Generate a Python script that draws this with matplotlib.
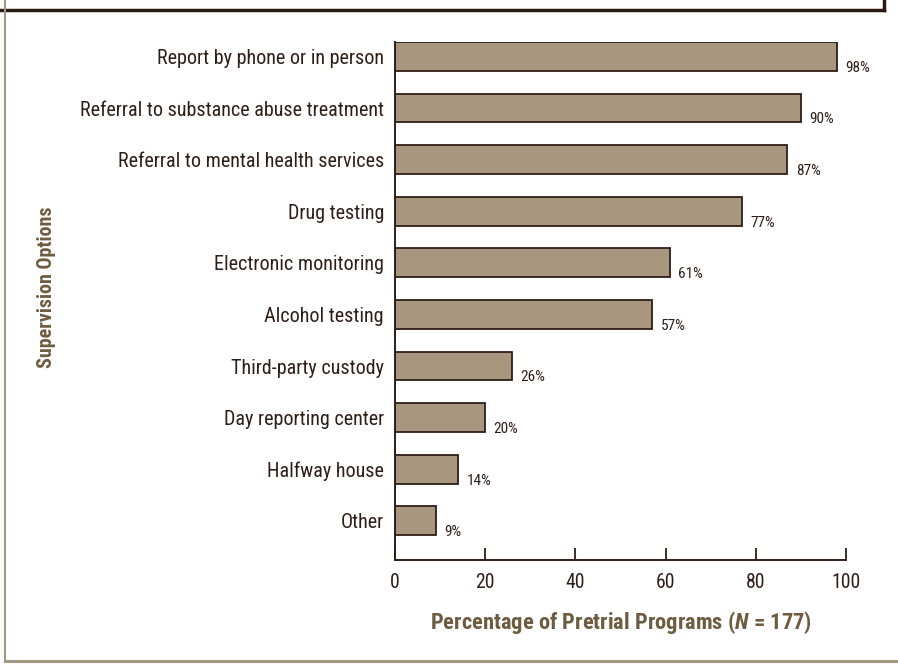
import matplotlib
matplotlib.use("Agg")
import matplotlib.pyplot as plt
from matplotlib import font_manager as fm
from matplotlib.lines import Line2D

categories = ["Report by phone or in person", "Referral to substance abuse treatment",
              "Referral to mental health services", "Drug testing", "Electronic monitoring",
              "Alcohol testing", "Third-party custody", "Day reporting center",
              "Halfway house", "Other"]
values = [98, 90, 87, 77, 61, 57, 26, 20, 14, 9]
xticks = [0, 20, 40, 60, 80, 100]
xlabel = "Percentage of Pretrial Programs ($\\bfit{N}$ = 177)"
ylabel = "Supervision Options"

names = {f.name for f in fm.fontManager.ttflist}
fam = "DejaVu Sans"
for cand in ["Roboto Condensed", "Archivo Narrow", "PT Sans Narrow", "Liberation Sans Narrow"]:
    if cand in names:
        fam = cand
        break
plt.rcParams["font.family"] = [fam, "DejaVu Sans"]
plt.rcParams["mathtext.fontset"] = "custom"
plt.rcParams["mathtext.bfit"] = f"{fam}:bold:italic"
plt.rcParams["mathtext.bf"] = f"{fam}:bold"
plt.rcParams["mathtext.rm"] = f"{fam}"

dark = "#2e1e18"
barc = "#a8967e"
titlec = "#6e5c40"
framec = "#a39683"

fig = plt.figure(figsize=(8.98, 6.66), dpi=100)
ax = fig.add_axes([395/898, 1-560/666, (846-395)/898, (560-42)/666])

ypos = list(range(len(categories)))
ax.barh(ypos, values, height=0.56, color=barc, edgecolor=dark, linewidth=1.3)
for y, v in zip(ypos, values):
    ax.annotate(f"{v}%", (v, y + 0.22), xytext=(6, 0), textcoords="offset points",
                va="center", ha="left", fontsize=11, color=dark)

ax.set_xlim(0, 100)
ax.set_ylim(9.76, -0.28)
ax.set_yticks(ypos)
ax.set_yticklabels(categories, fontsize=14.5, color=dark)
ax.set_xticks(xticks)
ax.set_xticklabels([str(t) for t in xticks], fontsize=14.2, color=dark)
ax.tick_params(axis="y", length=0, pad=8)
ax.tick_params(axis="x", direction="in", length=8.5, width=1.3, color=dark, pad=9)
for s in ["top", "right"]:
    ax.spines[s].set_visible(False)
for s in ["left", "bottom"]:
    ax.spines[s].set_color(dark)
    ax.spines[s].set_linewidth(1.4)

fig.text(620.5/898, 1-622/666, xlabel, fontsize=16.2, fontweight="bold",
         color=titlec, ha="center", va="center")
fig.text(47/898, 1-287.5/666, ylabel, fontsize=14.4, fontweight="bold", color=titlec,
         rotation=90, ha="center", va="center")

# frame decorations
fig.add_artist(Line2D([0, 884/898], [1-10/666, 1-10/666], color="#2a1a12", lw=2.5))
fig.add_artist(Line2D([884/898, 884/898], [1, 1-10/666], color="#2a1a12", lw=2.5))
fig.add_artist(Line2D([5/898, 5/898], [1, 1-661/666], color=framec, lw=1.5))
fig.add_artist(Line2D([5/898, 1], [1-661/666, 1-661/666], color=framec, lw=2.2))

fig.savefig("out.png", dpi=100)
